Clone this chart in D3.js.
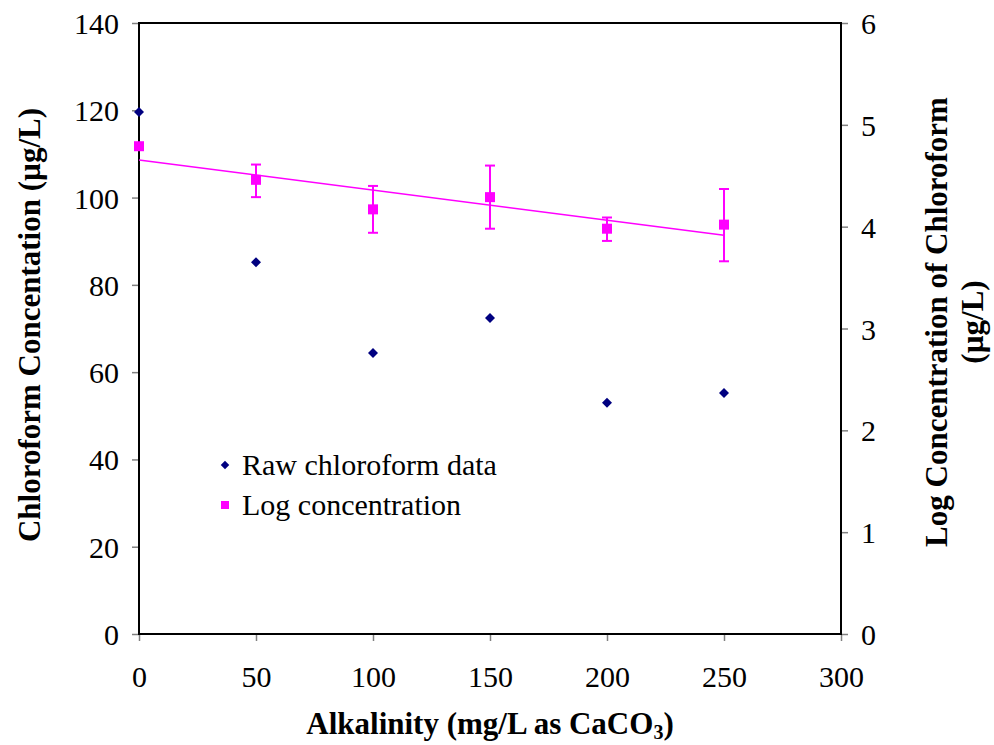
<!DOCTYPE html>
<html>
<head>
<meta charset="utf-8">
<script src="https://cdn.jsdelivr.net/npm/d3@7"></script>
<style>
  html, body { margin: 0; padding: 0; background: #fff; }
  svg { display: block; font-family: "Liberation Serif", "Times New Roman", serif; }
</style>
</head>
<body>
<svg id="chart" width="994" height="745"></svg>
<script>
// Alkalinity levels (mg/L as CaCO3)
const alkalinity = [0, 50, 100, 150, 200, 250];
// Raw chloroform concentration (µg/L), left axis
const rawChloroform = [119.6, 85.2, 64.4, 72.4, 53.0, 55.2];
// Log concentration of chloroform, right axis, with error bar bounds
const logConc = [4.79, 4.46, 4.17, 4.29, 3.98, 4.02];
const logLow  = [4.76, 4.29, 3.94, 3.98, 3.86, 3.66];
const logHigh = [4.82, 4.61, 4.40, 4.60, 4.09, 4.37];

const xTicks = [0, 50, 100, 150, 200, 250, 300];
const yLeftTicks = [0, 20, 40, 60, 80, 100, 120, 140];
const yRightTicks = [0, 1, 2, 3, 4, 5, 6];

const legendLabels = ["Raw chloroform data", "Log concentration"];

const svg = d3.select("#chart");
const m = { left: 139, right: 841, top: 23, bottom: 634 };

const x = d3.scaleLinear().domain([0, 300]).range([m.left, m.right]);
const yL = d3.scaleLinear().domain([0, 140]).range([m.bottom, m.top]);
const yR = d3.scaleLinear().domain([0, 6]).range([m.bottom, m.top]);

const tickFont = 30;

// Axes
function styleAxis(g) {
  g.select(".domain").remove();
  g.selectAll(".tick line").attr("stroke", "#808080").attr("stroke-width", 1.5);
  g.selectAll(".tick text").attr("fill", "#000")
    .style("font-size", tickFont + "px")
    .style("font-family", "'Liberation Serif', 'Times New Roman', serif");
}

svg.append("g")
  .attr("transform", `translate(0,${m.bottom})`)
  .call(d3.axisBottom(x).tickValues(xTicks).tickSize(7).tickPadding(25).tickFormat(d3.format("d")))
  .call(styleAxis);

svg.append("g")
  .attr("transform", `translate(${m.left},0)`)
  .call(d3.axisLeft(yL).tickValues(yLeftTicks).tickSize(7).tickPadding(13).tickFormat(d3.format("d")))
  .call(styleAxis)
  .selectAll(".tick text").attr("dy", "0.35em");

svg.append("g")
  .attr("transform", `translate(${m.right},0)`)
  .call(d3.axisRight(yR).tickValues(yRightTicks).tickSize(7).tickPadding(13).tickFormat(d3.format("d")))
  .call(styleAxis)
  .selectAll(".tick text").attr("dy", "0.35em");

// Plot frame
svg.append("rect")
  .attr("x", m.left).attr("y", m.top)
  .attr("width", m.right - m.left).attr("height", m.bottom - m.top)
  .attr("fill", "none").attr("stroke", "#000").attr("stroke-width", 2);

// Linear trendline fitted to the log concentration
const n = alkalinity.length;
const mx = d3.mean(alkalinity), my = d3.mean(logConc);
const sxy = d3.sum(alkalinity, (v, i) => (v - mx) * (logConc[i] - my));
const sxx = d3.sum(alkalinity, v => (v - mx) * (v - mx));
const slope = sxy / sxx, intercept = my - slope * mx;
const xEnds = [alkalinity[0], alkalinity[n - 1]];
svg.append("path")
  .attr("d", d3.line().x(d => x(d)).y(d => yR(intercept + slope * d))(xEnds))
  .attr("stroke", "#ff00ff").attr("stroke-width", 1.5).attr("fill", "none");

// Error bars
const eb = svg.append("g").attr("stroke", "#ff00ff").attr("stroke-width", 2);
alkalinity.forEach((a, i) => {
  eb.append("line").attr("x1", x(a)).attr("x2", x(a)).attr("y1", yR(logLow[i])).attr("y2", yR(logHigh[i]));
  [logLow[i], logHigh[i]].forEach(v => {
    eb.append("line").attr("x1", x(a) - 5).attr("x2", x(a) + 5).attr("y1", yR(v)).attr("y2", yR(v));
  });
});

// Log concentration squares
svg.append("g").selectAll("rect").data(alkalinity).join("rect")
  .attr("x", d => x(d) - 5).attr("y", (d, i) => yR(logConc[i]) - 5)
  .attr("width", 10).attr("height", 10).attr("fill", "#ff00ff");

// Raw chloroform diamonds
const diamond = d3.symbol().type(d3.symbolSquare).size(50);
svg.append("g").selectAll("path").data(alkalinity).join("path")
  .attr("d", diamond)
  .attr("transform", (d, i) => `translate(${x(d)},${yL(rawChloroform[i])}) rotate(45)`)
  .attr("fill", "#000080");

// Legend
const legend = svg.append("g").style("font-size", "30px");
legend.append("path").attr("d", d3.symbol().type(d3.symbolSquare).size(36)())
  .attr("transform", "translate(225,465) rotate(45)").attr("fill", "#000080");
legend.append("rect").attr("x", 221).attr("y", 501).attr("width", 8).attr("height", 8).attr("fill", "#ff00ff");
legend.append("text").attr("x", 242).attr("y", 475).text(legendLabels[0]);
legend.append("text").attr("x", 242).attr("y", 515).text(legendLabels[1]);

// Axis titles
svg.append("text")
  .attr("transform", "translate(40,325) rotate(-90)")
  .attr("text-anchor", "middle").attr("font-weight", "bold").style("font-size", "31px")
  .text("Chloroform Concentation (µg/L)");

const rt = svg.append("text")
  .attr("transform", "translate(947,322) rotate(-90)")
  .attr("text-anchor", "middle").attr("font-weight", "bold").style("font-size", "31px");
rt.append("tspan").attr("x", 0).attr("dy", 0).text("Log Concentration of Chloroform");
rt.append("tspan").attr("x", 0).attr("dy", 36).text("(µg/L)");

const xt = svg.append("text")
  .attr("x", 490).attr("y", 734)
  .attr("text-anchor", "middle").attr("font-weight", "bold").style("font-size", "31px");
xt.append("tspan").text("Alkalinity (mg/L as CaCO");
xt.append("tspan").attr("dy", 5).style("font-size", "20px").text("3");
xt.append("tspan").attr("dy", -5).text(")");
</script>
</body>
</html>
